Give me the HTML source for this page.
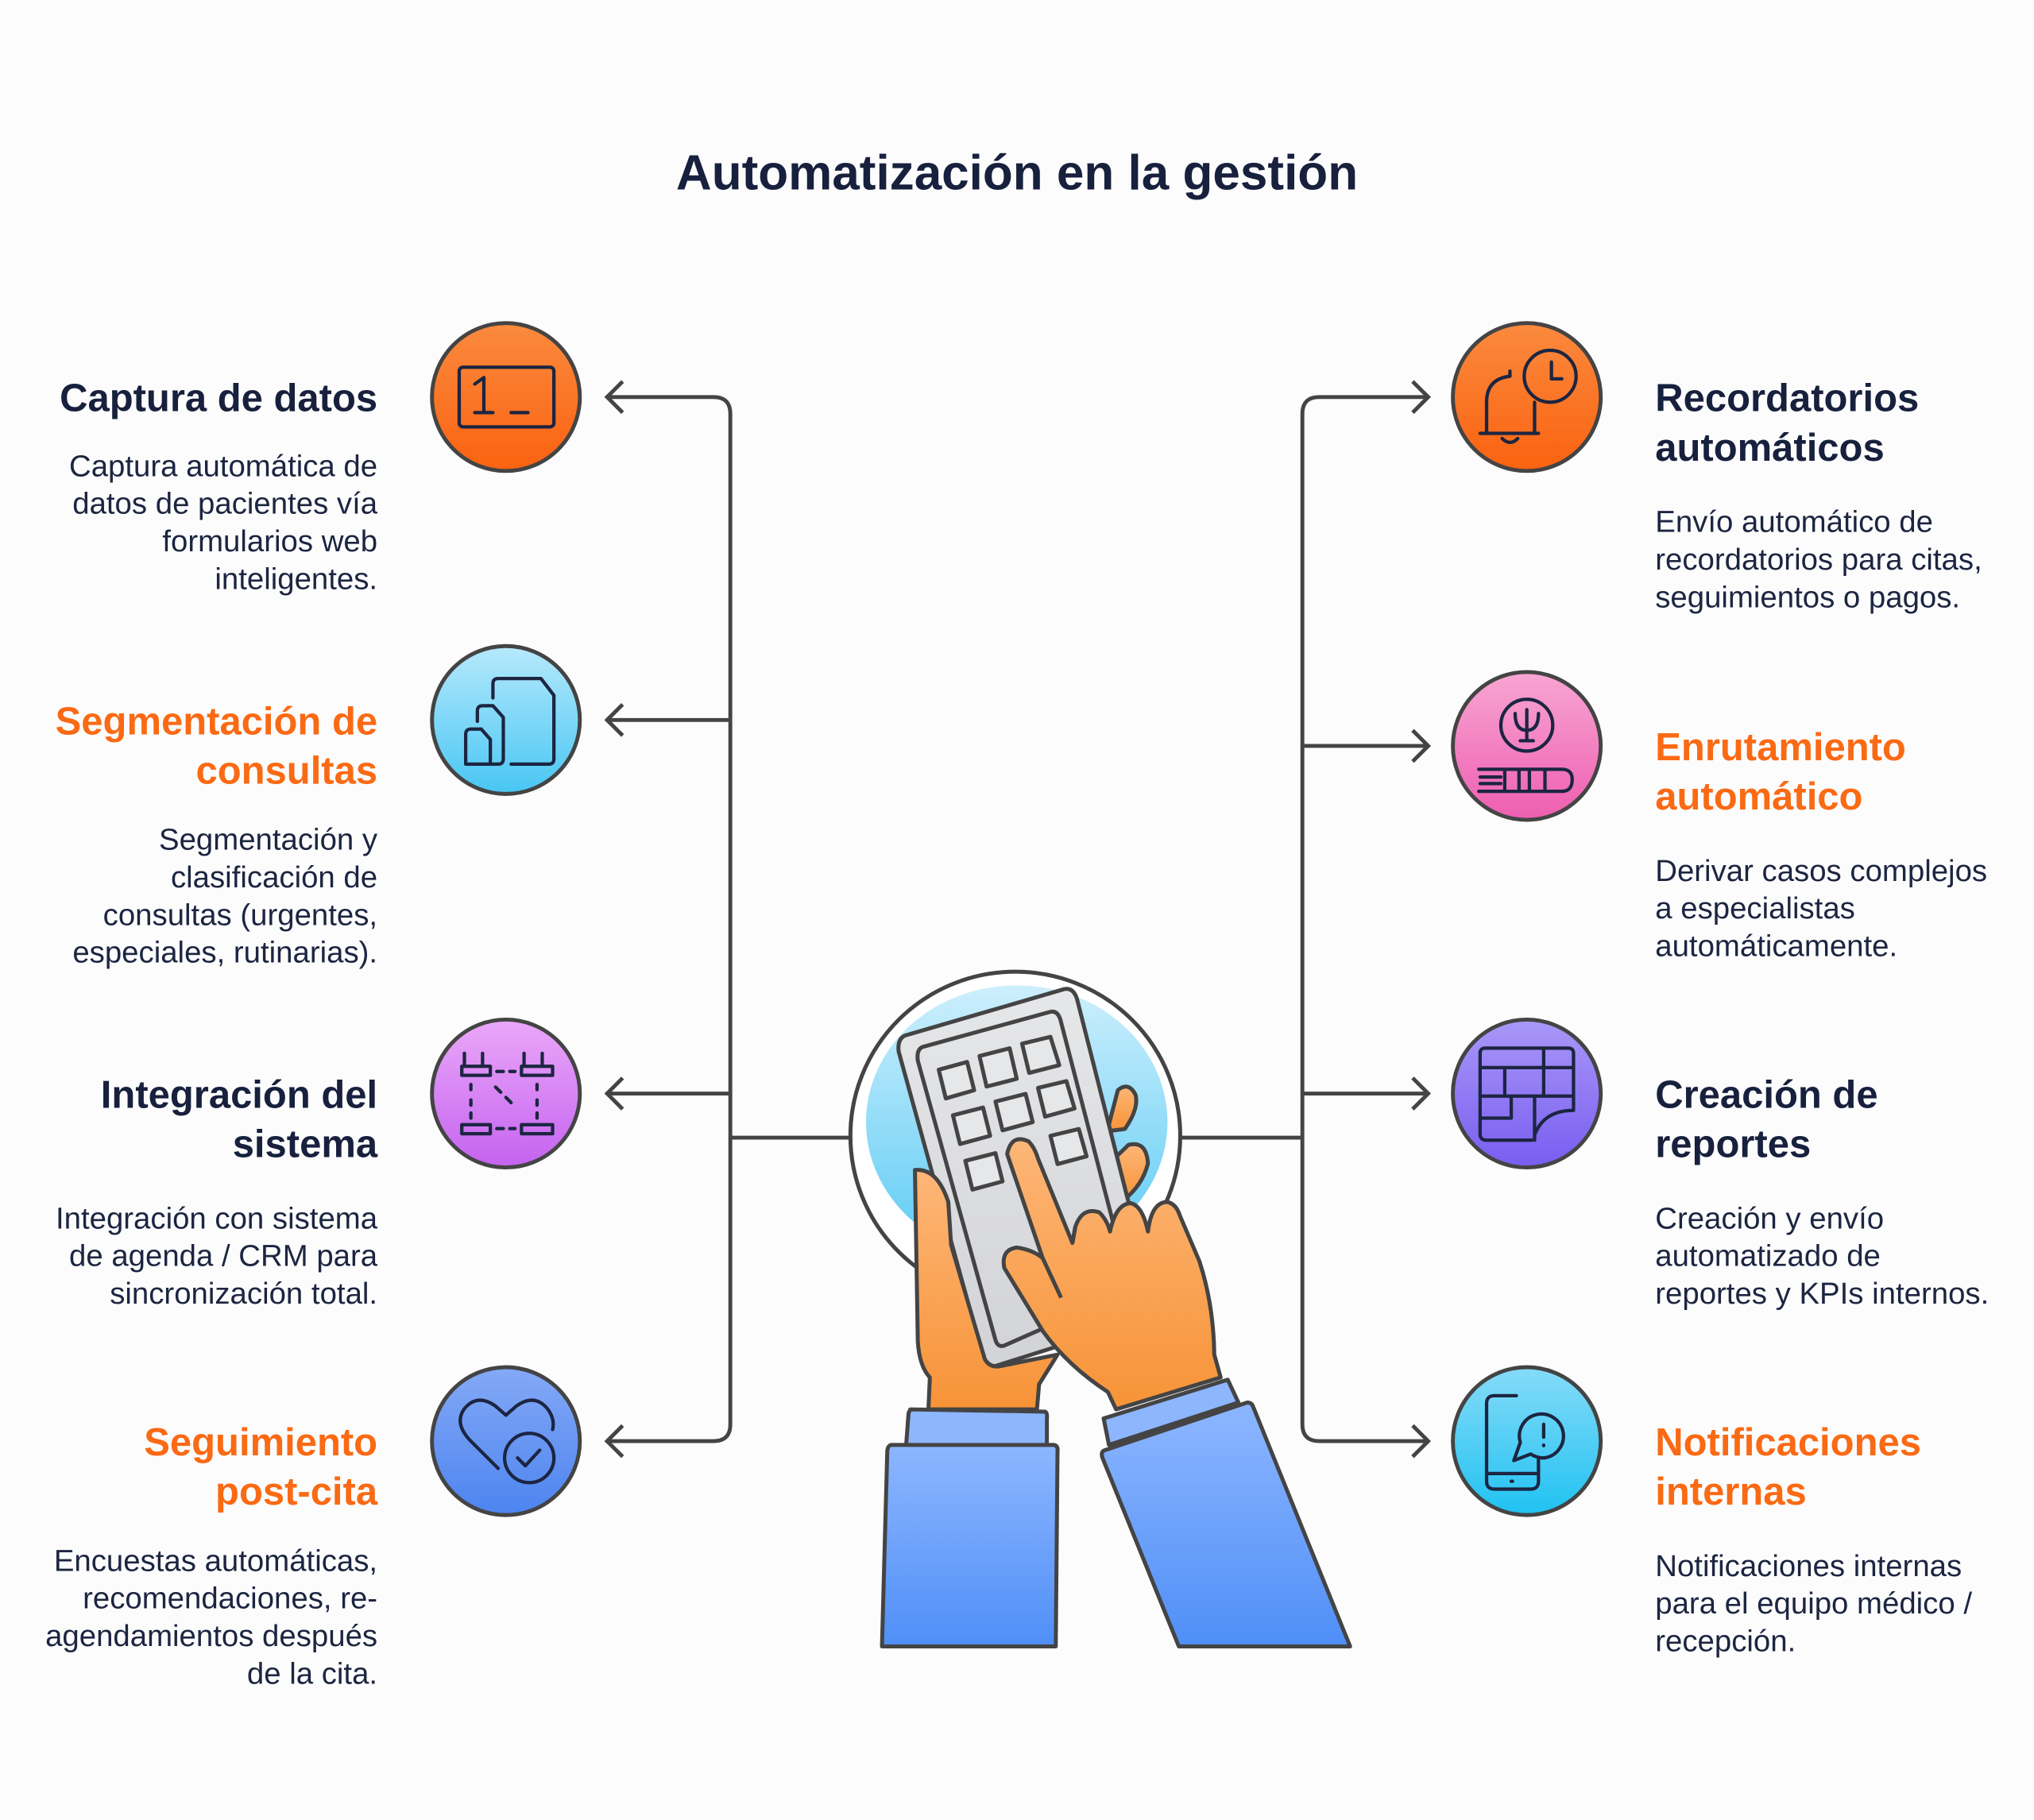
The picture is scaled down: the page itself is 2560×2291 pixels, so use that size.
<!DOCTYPE html>
<html><head><meta charset="utf-8"><style>
html,body{margin:0;padding:0;background:#fcfcfc}
svg{display:block}
text{font-family:"Liberation Sans",sans-serif}
.h{font-weight:bold;font-size:30px;fill:#17203d}
.o{fill:#fa6a14}
.b{font-size:23.5px;fill:#1c2541}
.c{stroke:#444;stroke-width:3;fill:none}
.ic{stroke:#1c2541;stroke-width:2.6;fill:none;stroke-linecap:round;stroke-linejoin:round}
.hs{stroke:#444;stroke-width:5;stroke-linejoin:round}
</style></head><body>
<svg width="2560" height="2291" viewBox="0 0 1568 1403" xmlns="http://www.w3.org/2000/svg">
<defs>
<linearGradient id="g1" x1="0" y1="0" x2="0" y2="1"><stop offset="0" stop-color="#fb8a3e"/><stop offset="1" stop-color="#fa6210"/></linearGradient>
<linearGradient id="g2" x1="0" y1="0" x2="0" y2="1"><stop offset="0" stop-color="#b6e9fc"/><stop offset="1" stop-color="#48c6f3"/></linearGradient>
<linearGradient id="g3" x1="0" y1="0" x2="0" y2="1"><stop offset="0" stop-color="#eaa8f8"/><stop offset="1" stop-color="#c563f0"/></linearGradient>
<linearGradient id="g4" x1="0" y1="0" x2="0" y2="1"><stop offset="0" stop-color="#84a9f6"/><stop offset="1" stop-color="#4d84f0"/></linearGradient>
<linearGradient id="g5" x1="0" y1="0" x2="0" y2="1"><stop offset="0" stop-color="#f8a6d3"/><stop offset="1" stop-color="#ee5eb0"/></linearGradient>
<linearGradient id="g6" x1="0" y1="0" x2="0" y2="1"><stop offset="0" stop-color="#a998f8"/><stop offset="1" stop-color="#785df0"/></linearGradient>
<linearGradient id="g7" x1="0" y1="0" x2="0" y2="1"><stop offset="0" stop-color="#86dbf8"/><stop offset="1" stop-color="#20c2f2"/></linearGradient>
<linearGradient id="gc" x1="0" y1="0" x2="0" y2="1"><stop offset="0" stop-color="#cdeffc"/><stop offset="1" stop-color="#5ccbf5"/></linearGradient>
<linearGradient id="gh" x1="0" y1="0" x2="0" y2="1"><stop offset="0" stop-color="#fdb677"/><stop offset="1" stop-color="#f79337"/></linearGradient>
<linearGradient id="gs" x1="0" y1="0" x2="0" y2="1"><stop offset="0" stop-color="#8db6ff"/><stop offset="1" stop-color="#4f8ff7"/></linearGradient>
<linearGradient id="gk" x1="0" y1="0" x2="0" y2="1"><stop offset="0" stop-color="#e6e7e9"/><stop offset="1" stop-color="#d2d3d7"/></linearGradient>
</defs>
<rect width="1568" height="1403" fill="#fcfcfc"/>
<text x="784" y="146" text-anchor="middle" font-weight="bold" font-size="38" fill="#17203d">Automatización en la gestión</text>

<path class="c" d="M468,306 H550 Q563,306 563,319 V1098 Q563,1111 550,1111 H468 M563,555 H468 M563,843 H468 M563,877 H656"/>
<path class="c" d="M480,294 L468,306 L480,318 M480,543 L468,555 L480,567 M480,831 L468,843 L480,855 M480,1099 L468,1111 L480,1123"/>
<path class="c" d="M1101,306 H1017 Q1004,306 1004,319 V1098 Q1004,1111 1017,1111 H1101 M1004,575 H1101 M1004,843 H1101 M910,877 H1004"/>
<path class="c" d="M1089,294 L1101,306 L1089,318 M1089,563 L1101,575 L1089,587 M1089,831 L1101,843 L1089,855 M1089,1099 L1101,1111 L1089,1123"/>

<circle cx="390" cy="306" r="57" fill="url(#g1)" stroke="#444" stroke-width="3"/>
<rect class="ic" x="354" y="283" width="73" height="46" rx="3"/>
<path class="ic" d="M366,296 L373,291 V318 M366,318 H380 M394,318 H407"/>
<circle cx="390" cy="555" r="57" fill="url(#g2)" stroke="#444" stroke-width="3"/>
<path class="ic" d="M359,589 V566 Q359,562 363,562 H371 L378,570 V589 Z M372,589 H384 Q388,589 388,585 V553 L380,544 H372 Q368,544 368,548 V556 M394,589 H423 Q427,589 427,585 V536 L417,523 H384 Q380,523 380,527 V538"/>
<circle cx="390" cy="843" r="57" fill="url(#g3)" stroke="#444" stroke-width="3"/>
<path class="ic" d="M358,812 V822 M372,812 V822 M356,822 h22 v7 h-22 Z M404,812 V822 M418,812 V822 M402,822 h24 v7 h-24 Z M356,867 h22 v7 h-22 Z M402,867 h24 v7 h-24 Z M363,836 v4 M363,848 v4 M363,858 v4 M414,836 v4 M414,848 v4 M414,858 v4 M383,826 h5 M393,826 h4 M383,870 h5 M393,870 h4 M382,838 l4,4 M390,846 l4,4"/>
<circle cx="390" cy="1111" r="57" fill="url(#g4)" stroke="#444" stroke-width="3"/>
<path class="ic" d="M384,1132 L362,1110 Q350,1097 358,1086 Q368,1074 382,1084 L390,1091 L398,1084 Q412,1074 422,1086 Q428,1094 426,1102"/>
<circle class="ic" cx="408" cy="1124" r="19"/>
<path class="ic" d="M399,1124 L405,1130 L416,1118"/>

<circle cx="1177" cy="306" r="57" fill="url(#g1)" stroke="#444" stroke-width="3"/>
<path class="ic" d="M1141,334 H1186 M1146,334 V310 Q1146,292 1164,290 M1183,310 V334 M1164,290 V286 M1158,338 Q1164,344 1170,338"/>
<circle class="ic" cx="1195" cy="290" r="20"/>
<path class="ic" d="M1196,279 V292 H1204"/>
<circle cx="1177" cy="575" r="57" fill="url(#g5)" stroke="#444" stroke-width="3"/>
<circle class="ic" cx="1177" cy="559" r="20"/>
<path class="ic" d="M1168,550 Q1168,563 1177,563 Q1186,563 1186,550 M1177,547 V571 M1172,571 H1182 M1140,593 H1204 Q1212,593 1212,601 Q1212,610 1204,610 H1140 M1141,599 H1157 M1141,604 H1157 M1160,593 V610 M1171,593 V610 M1179,593 V610 M1191,593 V610"/>
<circle cx="1177" cy="843" r="57" fill="url(#g6)" stroke="#444" stroke-width="3"/>
<path class="ic" d="M1181,879 H1146 Q1141,879 1141,874 V812 Q1141,808 1145,808 H1209 Q1213,808 1213,812 V856 M1141,823 H1213 M1141,845 H1213 M1160,823 V845 M1190,808 V845 M1165,845 V862 M1183,845 V879 M1183,875 Q1190,856 1213,856 M1141,862 H1165"/>
<circle cx="1177" cy="1111" r="57" fill="url(#g7)" stroke="#444" stroke-width="3"/>
<path class="ic" d="M1169,1076 H1152 Q1146,1076 1146,1082 V1142 Q1146,1148 1152,1148 H1180 Q1186,1148 1186,1142 V1124 M1146,1136 H1186 M1165,1142 h1"/>
<path class="ic" d="M1190,1124 A17,17 0 1 0 1172,1112 L1167,1126 L1180,1121 Q1185,1124 1190,1124 Z M1190,1098 V1108 M1190,1114 v0.5"/>

<text class="h" text-anchor="end" x="291" y="317">Captura de datos</text>
<text class="b" text-anchor="end"><tspan x="291" y="367">Captura automática de</tspan><tspan x="291" y="396">datos de pacientes vía</tspan><tspan x="291" y="425">formularios web</tspan><tspan x="291" y="454">inteligentes.</tspan></text>
<text class="h o" text-anchor="end"><tspan x="291" y="566">Segmentación de</tspan><tspan x="291" y="604">consultas</tspan></text>
<text class="b" text-anchor="end"><tspan x="291" y="655">Segmentación y</tspan><tspan x="291" y="684">clasificación de</tspan><tspan x="291" y="713">consultas (urgentes,</tspan><tspan x="291" y="742">especiales, rutinarias).</tspan></text>
<text class="h" text-anchor="end"><tspan x="291" y="854">Integración del</tspan><tspan x="291" y="892">sistema</tspan></text>
<text class="b" text-anchor="end"><tspan x="291" y="947">Integración con sistema</tspan><tspan x="291" y="976">de agenda / CRM para</tspan><tspan x="291" y="1005">sincronización total.</tspan></text>
<text class="h o" text-anchor="end"><tspan x="291" y="1122">Seguimiento</tspan><tspan x="291" y="1160">post-cita</tspan></text>
<text class="b" text-anchor="end"><tspan x="291" y="1211">Encuestas automáticas,</tspan><tspan x="291" y="1240">recomendaciones, re-</tspan><tspan x="291" y="1269">agendamientos después</tspan><tspan x="291" y="1298">de la cita.</tspan></text>

<text class="h"><tspan x="1276" y="317">Recordatorios</tspan><tspan x="1276" y="355">automáticos</tspan></text>
<text class="b"><tspan x="1276" y="410">Envío automático de</tspan><tspan x="1276" y="439">recordatorios para citas,</tspan><tspan x="1276" y="468">seguimientos o pagos.</tspan></text>
<text class="h o"><tspan x="1276" y="586">Enrutamiento</tspan><tspan x="1276" y="624">automático</tspan></text>
<text class="b"><tspan x="1276" y="679">Derivar casos complejos</tspan><tspan x="1276" y="708">a especialistas</tspan><tspan x="1276" y="737">automáticamente.</tspan></text>
<text class="h"><tspan x="1276" y="854">Creación de</tspan><tspan x="1276" y="892">reportes</tspan></text>
<text class="b"><tspan x="1276" y="947">Creación y envío</tspan><tspan x="1276" y="976">automatizado de</tspan><tspan x="1276" y="1005">reportes y KPIs internos.</tspan></text>
<text class="h o"><tspan x="1276" y="1122">Notificaciones</tspan><tspan x="1276" y="1160">internas</tspan></text>
<text class="b"><tspan x="1276" y="1215">Notificaciones internas</tspan><tspan x="1276" y="1244">para el equipo médico /</tspan><tspan x="1276" y="1273">recepción.</tspan></text>

<g transform="translate(643,735) scale(0.2734,0.3515)">
<ellipse cx="511" cy="400" rx="465" ry="360" fill="#fff" stroke="#444" stroke-width="5" vector-effect="non-scaling-stroke"/>
<ellipse cx="515" cy="370" rx="425" ry="300" fill="url(#gc)"/>
<path class="hs" vector-effect="non-scaling-stroke" fill="url(#gh)" d="M770,390 L800,300 Q830,280 850,310 Q860,340 820,385 Z"/>
<path class="hs" vector-effect="non-scaling-stroke" fill="url(#gh)" d="M740,520 Q730,490 770,465 L830,420 Q880,410 885,460 Q870,510 810,545 Z"/>
<path class="hs" vector-effect="non-scaling-stroke" fill="url(#gk)" d="M200,180 L650,78 Q675,75 685,100 L900,760 Q905,790 880,800 L455,905 Q430,910 420,885 L182,215 Q178,188 200,180 Z"/>
<path class="hs" vector-effect="non-scaling-stroke" fill="none" d="M250,205 L610,128 Q630,125 638,145 L830,720 Q835,740 815,745 L480,860 Q462,865 455,848 L236,235 Q232,210 250,205 Z"/>
<g class="hs" fill="#e6e7e9">
<path vector-effect="non-scaling-stroke" d="M295,255 L375,238 L395,300 L315,318 Z"/>
<path vector-effect="non-scaling-stroke" d="M410,225 L495,208 L515,275 L430,292 Z"/>
<path vector-effect="non-scaling-stroke" d="M530,198 L610,183 L635,245 L550,262 Z"/>
<path vector-effect="non-scaling-stroke" d="M335,355 L420,338 L440,400 L355,418 Z"/>
<path vector-effect="non-scaling-stroke" d="M455,325 L540,308 L560,370 L475,388 Z"/>
<path vector-effect="non-scaling-stroke" d="M575,295 L655,280 L678,340 L595,358 Z"/>
<path vector-effect="non-scaling-stroke" d="M370,455 L455,438 L475,500 L390,518 Z"/>
<path vector-effect="non-scaling-stroke" d="M610,400 L690,385 L712,445 L630,462 Z"/>
</g>
<path class="hs" vector-effect="non-scaling-stroke" fill="url(#gh)" d="M228,475 Q290,470 322,545 L330,640 L425,890 Q440,910 470,905 L630,880 L578,945 L572,1000 L266,1000 L270,930 Q240,905 236,850 Z"/>
<path class="hs" vector-effect="non-scaling-stroke" fill="url(#gh)" d="M488,440 Q500,395 548,412 Q565,425 575,450 L672,635 L680,600 Q700,555 748,568 Q770,585 778,610 Q795,548 838,548 Q870,555 885,610 Q895,545 940,545 Q965,550 975,575 L1030,675 Q1070,770 1072,880 L1090,930 L795,1000 L772,962 Q660,905 590,830 L480,690 Q470,650 515,645 Q560,650 588,668 Z"/>
<path vector-effect="non-scaling-stroke" stroke="#444" stroke-width="5" fill="none" d="M588,668 L640,755 M672,635 L680,600"/>
<path class="hs" vector-effect="non-scaling-stroke" fill="#8db6ff" d="M215,1000 L595,1005 Q602,1008 600,1020 L600,1080 L203,1080 L210,1008 Z"/>
<path class="hs" vector-effect="non-scaling-stroke" fill="url(#gs)" d="M160,1078 L620,1078 Q632,1080 630,1092 L625,1520 L135,1520 L150,1090 Q152,1080 160,1078 Z"/>
<path class="hs" vector-effect="non-scaling-stroke" fill="#8db6ff" d="M760,1020 L1110,935 L1140,985 L775,1078 Z"/>
<path class="hs" vector-effect="non-scaling-stroke" fill="url(#gs)" d="M762,1090 L1165,985 Q1178,985 1182,995 L1455,1520 L972,1520 L756,1105 Q752,1093 762,1090 Z"/>
</g>
</svg>
</body></html>
